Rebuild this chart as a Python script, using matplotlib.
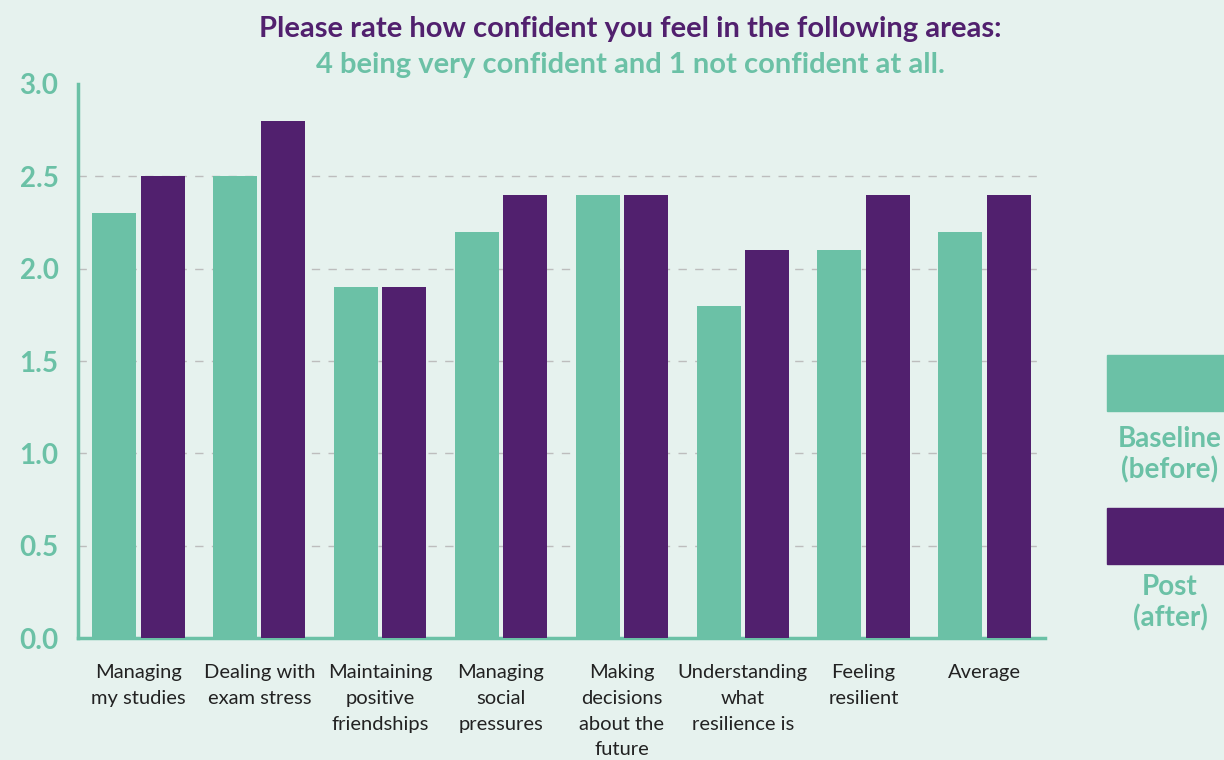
import numpy as np
import matplotlib
matplotlib.use("Agg")
import matplotlib.pyplot as plt
from matplotlib.patches import Rectangle

# Data
categories = ["Managing\nmy studies", "Dealing with\nexam stress", "Maintaining\npositive\nfriendships",
              "Managing\nsocial\npressures", "Making\ndecisions\nabout the\nfuture",
              "Understanding\nwhat\nresilience is", "Feeling\nresilient", "Average"]
baseline = [2.3, 2.5, 1.9, 2.2, 2.4, 1.8, 2.1, 2.2]
post = [2.5, 2.8, 1.9, 2.4, 2.4, 2.1, 2.4, 2.4]
series_labels = ["Baseline\n(before)", "Post\n(after)"]
yticks = [0.0, 0.5, 1.0, 1.5, 2.0, 2.5, 3.0]

bg = "#E6F2EE"
teal = "#6BC1A6"
purple = "#51206E"
plt.rcParams['font.family'] = ['Lato', 'DejaVu Sans']

fig = plt.figure(figsize=(12.24, 7.6), dpi=100, facecolor=bg)
ax = fig.add_axes([0.0637, 0.1605, 0.790, 0.729])
ax.set_facecolor(bg)

x = np.arange(len(categories))
w = 0.364
ax.bar(x - 0.2, baseline, width=w, color=teal, zorder=3)
ax.bar(x + 0.2, post, width=w, color=purple, zorder=3)

ax.set_xlim(-0.5, len(categories) - 0.5)
ax.set_ylim(0, 3.0)
ax.set_yticks(yticks)
ax.set_yticklabels([f"{v:.1f}" for v in yticks], color=teal, fontsize=20, fontweight='bold')
ax.set_xticks(x)
ax.set_xticklabels(categories, color="#222222", fontsize=14.5, linespacing=1.62, va='top')
ax.tick_params(axis='y', length=0, pad=14)
ax.tick_params(axis='x', length=0, pad=19)

for v in yticks[1:-1]:
    ax.axhline(v, color="#BDBDBD", lw=1, ls=(0, (6, 6)), zorder=1)

for s in ["top", "right"]:
    ax.spines[s].set_visible(False)
for s in ["left", "bottom"]:
    ax.spines[s].set_color(teal)
    ax.spines[s].set_linewidth(2.5)

# Title
fig.text(0.515, 0.962, "Please rate how confident you feel in the following areas:",
         ha='center', va='center', color=purple, fontsize=21, fontweight='bold')
fig.text(0.515, 0.914, "4 being very confident and 1 not confident at all.",
         ha='center', va='center', color=teal, fontsize=21, fontweight='bold')

# Legend on the right
fig.add_artist(Rectangle((1107 / 1224, 1 - 411 / 760), 120 / 1224, 56 / 760,
                         transform=fig.transFigure, color=teal))
fig.add_artist(Rectangle((1107 / 1224, 1 - 564 / 760), 120 / 1224, 56 / 760,
                         transform=fig.transFigure, color=purple))
fig.text(1170 / 1224, 1 - 455 / 760, series_labels[0], ha='center', va='center',
         color=teal, fontsize=20, fontweight='bold', linespacing=1.2)
fig.text(1170 / 1224, 1 - 603 / 760, series_labels[1], ha='center', va='center',
         color=teal, fontsize=20, fontweight='bold', linespacing=1.2)

fig.savefig("out.png", dpi=100, facecolor=bg)
